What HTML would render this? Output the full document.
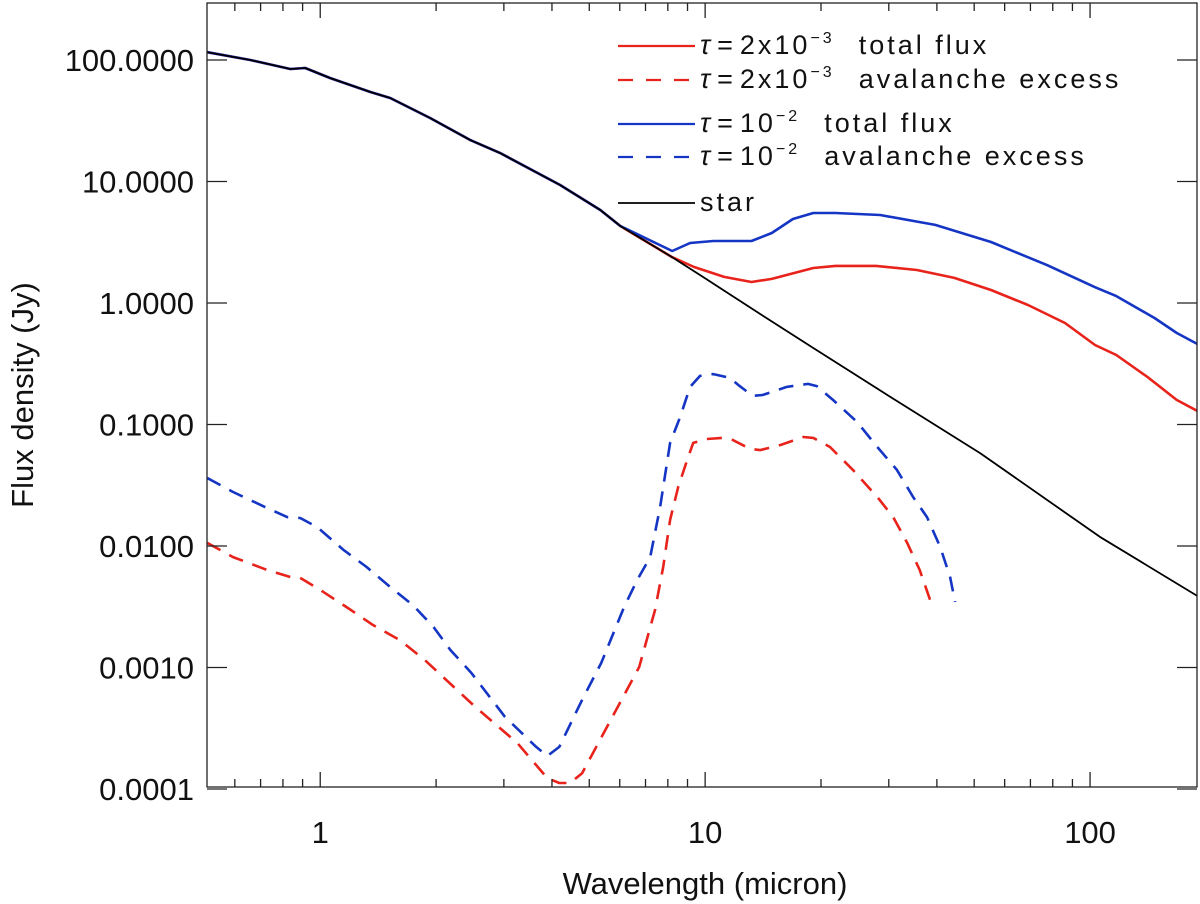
<!DOCTYPE html>
<html><head><meta charset="utf-8"><style>
html,body{margin:0;padding:0;background:#fff}
svg{display:block}
text{font-family:"Liberation Sans",Arial,sans-serif;fill:#111}
</style></head><body>
<svg id="chart" width="1200" height="904" viewBox="0 0 1200 904" xmlns="http://www.w3.org/2000/svg">
<g id="series"></g>
<g id="axes"></g>
<g id="legend"></g>
</svg>
<script>
// ---- data ----
const starLam = [0.509,0.658,0.836,0.914,1.06,1.35,1.52,1.93,2.45,2.93,4.20,5.34,6.02,8.21,9.70,13.9,19.1,31.2,51.8,106,190];
const starFlux = [116,100,84.3,85.9,71.1,54.5,48.7,33.3,22.0,17.2,9.36,5.83,4.30,2.38,1.70,0.812,0.426,0.159,0.0582,0.0119,0.00388];

const blueTotLam = [8.21,9.14,10.5,13.2,14.9,16.9,19.1,21.8,28.5,39.6,55.3,77.3,103,117,147,168,190];
const blueTotFlux = [2.68,3.12,3.24,3.24,3.77,4.91,5.51,5.51,5.30,4.39,3.18,2.05,1.35,1.14,0.753,0.566,0.460];

const redTotLam = [8.21,9.36,11.2,13.2,14.9,19.1,21.8,27.8,35.5,44.4,55.3,69.0,86.1,103,117,141,168,192];
const redTotFlux = [2.38,1.98,1.64,1.49,1.58,1.94,2.02,2.02,1.87,1.61,1.28,0.963,0.685,0.451,0.373,0.246,0.159,0.127];

const blueExLam = [0.509,0.594,0.728,0.821,0.887,0.982,1.15,1.32,1.52,1.74,1.97,2.18,2.47,3.02,3.64,3.89,4.18,4.79,5.37,6.16,6.66,7.20,7.64,8.11,8.61,9.14,9.70,10.5,11.6,12.3,13.3,14.1,16.3,18.5,19.5,21.5,24.8,28.0,31.5,34.7,37.7,40.8,43.3,44.6];
const blueExFlux = [0.0363,0.0278,0.0205,0.0173,0.0170,0.0143,0.00927,0.00672,0.00460,0.00327,0.00215,0.00139,0.000901,0.000392,0.000222,0.000187,0.000222,0.000541,0.00109,0.00315,0.00525,0.00811,0.0209,0.0705,0.115,0.204,0.251,0.260,0.242,0.207,0.172,0.175,0.204,0.216,0.207,0.159,0.105,0.0653,0.0423,0.0253,0.0173,0.00982,0.00556,0.00346];

const redExLam = [0.509,0.594,0.728,0.836,0.887,1.0,1.18,1.37,1.61,1.87,2.53,3.25,3.89,4.18,4.46,4.79,5.63,6.74,7.41,7.78,8.11,8.51,8.98,9.31,10.1,11.1,11.8,13.1,13.9,15.7,18.0,19.1,21.1,24.2,28.0,30.8,33.5,36.1,38.4];
const redExFlux = [0.0106,0.00811,0.00634,0.00556,0.00546,0.00435,0.00309,0.00224,0.00168,0.00115,0.000473,0.000239,0.000123,0.000112,0.000112,0.000135,0.000349,0.00101,0.00297,0.00672,0.0164,0.0306,0.0511,0.0705,0.0760,0.0775,0.0745,0.0628,0.0616,0.0678,0.0789,0.0775,0.0653,0.0423,0.0253,0.0173,0.0106,0.00634,0.00360];

const yTickVals = [100,10,1,0.1,0.01,0.001,0.0001];
const yTickLabels = ["100.0000","10.0000","1.0000","0.1000","0.0100","0.0010","0.0001"];
const xTickVals = [1,10,100];
const xTickLabels = ["1","10","100"];

// ---- scales ----
const L=207,R=1197,T=3,B=787;
const xLo=Math.log10(0.508), xHi=Math.log10(189.6);
function sx(v){return L+(Math.log10(v)-xLo)/(xHi-xLo)*(R-L);}
function sy(v){return 303-Math.log10(v)*121.5;}

const NS="http://www.w3.org/2000/svg";
function mk(tag,attrs,parent){const e=document.createElementNS(NS,tag);for(const k in attrs)e.setAttribute(k,attrs[k]);parent.appendChild(e);return e;}

const series=document.getElementById('series');
const defs=mk('defs',{},document.getElementById('chart'));
const cp=mk('clipPath',{id:'clip'},defs);
mk('rect',{x:L,y:T,width:R-L,height:B-T},cp);
series.setAttribute('clip-path','url(#clip)');

function line(lams,fluxes,color,width,dash,name){
  const d=lams.map((l,i)=>(i?'L':'M')+sx(l).toFixed(1)+' '+sy(fluxes[i]).toFixed(1)).join(' ');
  const p=mk('path',{d:d,fill:'none',stroke:color,'stroke-width':width,'stroke-linejoin':'round'},series);
  if(dash)p.setAttribute('stroke-dasharray',dash);
  
  
}
const RED='#e8231b', BLUE='#1535c4';
line(redExLam,redExFlux,RED,2.6,'15 10','red-avalanche-excess-line');
line(blueExLam,blueExFlux,BLUE,2.6,'15 10','blue-avalanche-excess-line');
line(starLam.slice(0,13).concat(redTotLam),starFlux.slice(0,13).concat(redTotFlux),RED,2.6,null,'red-total-flux-line');
line(starLam.slice(0,13).concat(blueTotLam),starFlux.slice(0,13).concat(blueTotFlux),BLUE,2.6,null,'blue-total-flux-line');
line(starLam,starFlux,'#000',1.8,null,'star-line');

// ---- axes ----
const axes=document.getElementById('axes');
const frame=mk('rect',{x:L,y:T,width:R-L,height:B-T,fill:'none',stroke:'#222','stroke-width':1.3},axes);


yTickVals.forEach((v,i)=>{
  const y=sy(v);
  mk('line',{x1:L,x2:L+20,y1:y,y2:y,stroke:'#222','stroke-width':1.3},axes);
  mk('line',{x1:R-20,x2:R,y1:y,y2:y,stroke:'#222','stroke-width':1.3},axes);
  const t=mk('text',{x:194,y:y+11,'text-anchor':'end','font-size':31},axes);
  t.textContent=yTickLabels[i];
  
  
});
for(let dec=-1;dec<=2;dec++){
  for(let m=1;m<=9;m++){
    const v=m*Math.pow(10,dec);
    if(v<0.508||v>189.6)continue;
    const x=sx(v), len=(m===1)?15:8;
    mk('line',{x1:x,x2:x,y1:B,y2:B-len,stroke:'#222','stroke-width':1.3},axes);
    mk('line',{x1:x,x2:x,y1:T,y2:T+len,stroke:'#222','stroke-width':1.3},axes);
  }
}
xTickVals.forEach((v,i)=>{
  const t=mk('text',{x:sx(v),y:843,'text-anchor':'middle','font-size':31},axes);
  t.textContent=xTickLabels[i];
  
  
});
const xt=mk('text',{x:705,y:894,'text-anchor':'middle','font-size':31},axes);
xt.textContent='Wavelength (micron)';


const yt=mk('text',{x:0,y:0,'text-anchor':'middle','font-size':31,transform:'translate(33,395) rotate(-90)'},axes);
yt.textContent='Flux density (Jy)';



// ---- legend ----
const legend=document.getElementById('legend');
const entries=[
 {y:46,c:RED,dash:null,pre:'2x10',sup:'−3',post:'total flux',name:'legend-entry-red-total'},
 {y:80,c:RED,dash:'15 13',pre:'2x10',sup:'−3',post:'avalanche excess',name:'legend-entry-red-excess'},
 {y:124,c:BLUE,dash:null,pre:'10',sup:'−2',post:'total flux',name:'legend-entry-blue-total'},
 {y:157,c:BLUE,dash:'15 13',pre:'10',sup:'−2',post:'avalanche excess',name:'legend-entry-blue-excess'},
 {y:203,c:'#000',dash:null,pre:null,post:'star',name:'legend-entry-star'}
];
entries.forEach(e=>{
  const g=mk('g',{},legend);
  
  
  const ln=mk('line',{x1:618,x2:695,y1:e.y,y2:e.y,stroke:e.c,'stroke-width':e.c==='#000'?1.8:2.2},g);
  if(e.dash)ln.setAttribute('stroke-dasharray',e.dash);
  const t=mk('text',{x:700,y:e.y+8,'font-size':27,'letter-spacing':'3'},g);
  if(e.pre){
    const a=mk('tspan',{'font-style':'italic'},t); a.textContent='τ';
    const q=mk('tspan',{dx:4},t); q.textContent='=';
    const b=mk('tspan',{dx:4},t); b.textContent=e.pre;
    const s=mk('tspan',{dy:-11,'font-size':16},t); s.textContent=e.sup;
    const p=mk('tspan',{dy:11,dx:24},t); p.textContent=e.post;
  } else {
    t.setAttribute('x',700);
    t.textContent=e.post;
  }
});
</script>
</body></html>
